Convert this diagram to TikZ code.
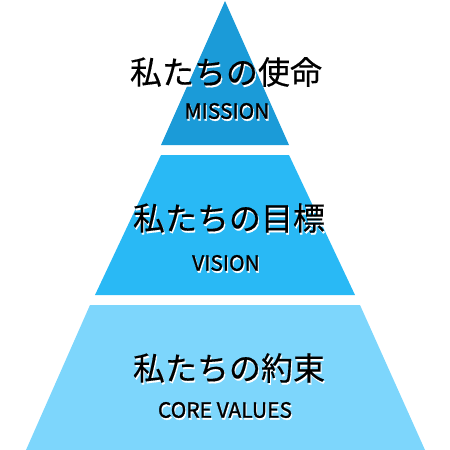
\documentclass[tikz,border=0pt]{standalone}
\usepackage{fontspec}
\setmainfont{Noto Sans CJK JP}
\newfontfamily\subfont[FakeBold=1.2]{Noto Sans CJK JP}
\newfontfamily\titlefont[FakeBold=0.4]{Noto Sans CJK JP}
\usetikzlibrary{positioning}
\definecolor{missionblue}{RGB}{27,155,216}
\definecolor{visionblue}{RGB}{41,185,245}
\definecolor{valueblue}{RGB}{125,214,252}

\begin{document}
\begin{tikzpicture}[x=1pt, y=-1pt, title/.style={inner sep=0pt, font=\titlefont\fontsize{32}{32}\selectfont}, sub/.style={inner sep=0pt, font=\subfont\fontsize{21}{21}\selectfont}, shadow/.style={text=white}]
\useasboundingbox (0,0) rectangle (450,450);
% pyramid tiers
\fill[missionblue] (225,1) -- (289,145) -- (161,145) -- cycle;
\fill[visionblue] (161,155) -- (289,155) -- (355,295) -- (95,295) -- cycle;
\fill[valueblue] (90,305) -- (360,305) -- (425,450) -- (26,450) -- cycle;
% top tier
\node[title, shadow] (mission-sh) at (227,74) {私たちの使命};
\node[title] (mission) at (226,72) {私たちの使命};
\node[sub, shadow] (mission-en-sh) at (228,113) {MISSION};
\node[sub] (mission-en) at (227,111) {MISSION};
% middle tier
\node[title, shadow] (vision-sh) at (230,220) {私たちの目標};
\node[title] (vision) at (229,218) {私たちの目標};
\node[sub, shadow] (vision-en-sh) at (227,265) {VISION};
\node[sub] (vision-en) at (226,263) {VISION};
% bottom tier
\node[title, shadow] (values-sh) at (230,370) {私たちの約束};
\node[title] (values) at (229,368) {私たちの約束};
\node[sub, shadow] (values-en-sh) at (226,412) {CORE VALUES};
\node[sub] (values-en) at (225,410) {CORE VALUES};
\end{tikzpicture}
\end{document}
